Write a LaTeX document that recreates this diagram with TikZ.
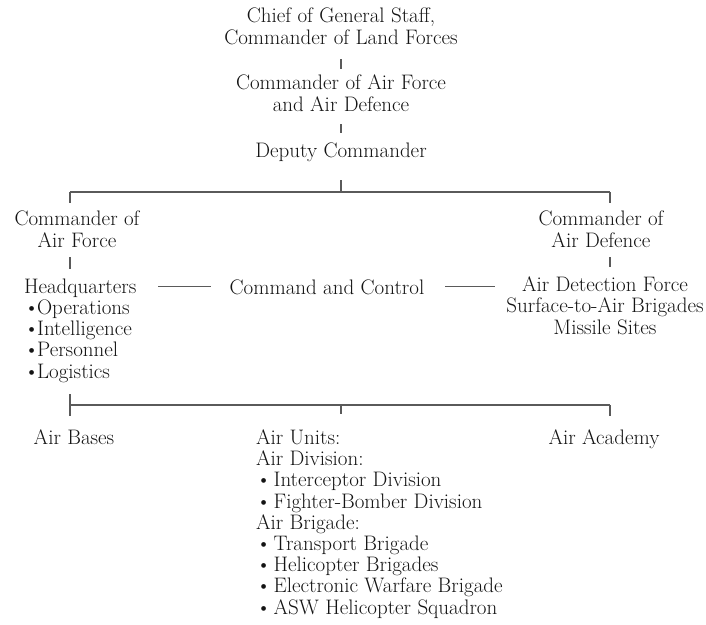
\documentclass[tikz,border=0pt]{standalone}
\usepackage{xcolor}
\definecolor{txt}{HTML}{141414}
\definecolor{ln}{HTML}{5A5A5A}
\newcommand{\hqb}{\textbullet\hspace{-2pt}}
\newcommand{\unb}{\textbullet\hspace{2.5pt}}
\begin{document}
\begin{tikzpicture}[x=1pt,y=-1pt,
  lbl/.style={inner sep=0pt,outer sep=0pt,text=txt,font=\fontsize{21}{21.2}\selectfont},
  ctr/.style={lbl,align=center,anchor=base},
  lft/.style={lbl,align=left,anchor=base west},
  conn/.style={draw=ln,line width=1.3pt}]
\useasboundingbox[fill=white] (0,0) rectangle (706,624);
% nodes (anchored at the baseline of their last line)
\node[ctr] (chief) at (341,44) {Chief of General Staff,\\Commander of Land Forces};
\node[ctr] (cafad) at (341,111) {Commander of Air Force\\and Air Defence};
\node[ctr] (deputy) at (341,157) {Deputy Commander};
\node[ctr] (caf) at (77,247) {Commander of\\Air Force};
\node[ctr] (cad) at (601,247) {Commander of\\Air Defence};
\node[lft] (hq) at (24,378) {Headquarters\\\hqb Operations\\\hqb Intelligence\\\hqb Personnel\\\hqb Logistics};
\node[ctr] (cc) at (327,294) {Command and Control};
\node[ctr] (adf) at (605,334) {Air Detection Force\\Surface-to-Air Brigades\\Missile Sites};
\node[ctr] (bases) at (74,444) {Air Bases};
\node[lft] (units) at (256,614) {Air Units:\\Air Division:\\\unb Interceptor Division\\\unb Fighter-Bomber Division\\Air Brigade:\\\unb Transport Brigade\\\unb Helicopter Brigades\\\unb Electronic Warfare Brigade\\\unb ASW Helicopter Squadron};
\node[ctr] (academy) at (604,444) {Air Academy};
% junction coordinates
\coordinate (jm) at (341,192);
\coordinate (jl) at (70,192);
\coordinate (jr) at (610,192);
\coordinate (bl) at (70,405);
\coordinate (bm) at (341,405);
\coordinate (br) at (610,405);
% connectors
\draw[conn,shorten <=15pt,shorten >=6.4pt] (chief.south) -- (cafad.north);
\draw[conn,shorten <=13pt,shorten >=9.4pt] (cafad.south) -- (deputy.north);
\draw[conn,shorten <=18.9pt] (deputy.south) -- (jm);
\draw[conn] (jl) -- (jr);
\draw[conn,shorten >=8.4pt] (jl) -- (jl |- caf.north);
\draw[conn,shorten >=8.4pt] (jr) -- (jr |- cad.north);
\draw[conn,shorten <=10pt,shorten >=9.4pt] (caf.south -| jl) -- (hq.north -| jl);
\draw[conn,shorten <=10pt,shorten >=9.4pt] (cad.south -| jr) -- (adf.north -| jr);
\draw[conn,shorten <=22pt,shorten >=19pt] (cc.west -| hq.east) -- (cc.west);
\draw[conn,shorten <=21pt,shorten >=11pt] (cc.east) -- (cc.east -| adf.west);
\draw[conn,shorten <=11.9pt] (hq.south -| bl) -- (bl);
\draw[conn] (bl) -- (br);
\draw[conn,shorten >=13.4pt] (bl) -- (bases.north -| bl);
\draw[conn,shorten >=15.4pt] (bm) -- (units.north -| bm);
\draw[conn,shorten >=13.4pt] (br) -- (academy.north -| br);
\end{tikzpicture}
\end{document}
